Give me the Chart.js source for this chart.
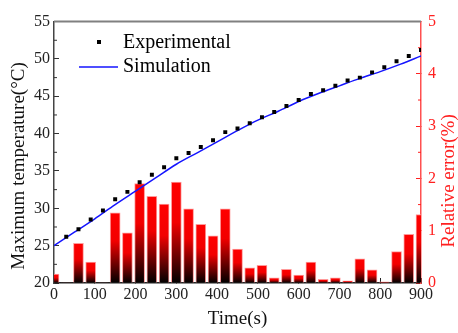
<!DOCTYPE html>
<html>
<head>
<meta charset="utf-8">
<script src="https://cdn.jsdelivr.net/npm/chart.js@4.4.1/dist/chart.umd.min.js"></script>
<style>
  html, body { margin: 0; padding: 0; background: #fff; }
</style>
</head>
<body>
<canvas id="chart" width="458" height="333"></canvas>
<script>
'use strict';

// measured points (s, degC)
const expTimes = [30, 60, 90, 120, 150, 180, 210, 240, 270, 300, 330, 360, 390, 420, 450,
                  480, 510, 540, 570, 600, 630, 660, 690, 720, 750, 780, 810, 840, 870, 900];
const expTemp = [26.2, 27.2, 28.5, 29.7, 31.2, 32.2, 33.5, 34.5, 35.5, 36.7, 37.4, 38.2, 39.1, 40.2, 40.7,
                 41.4, 42.2, 42.9, 43.7, 44.5, 45.3, 45.8, 46.4, 47.1, 47.5, 48.2, 48.9, 49.7, 50.4, 51.2];

// simulated curve
const simTimes = [0, 50, 100, 150, 200, 250, 300, 350, 400, 450, 500, 550, 600, 650, 700, 750, 800, 850, 900];
const simTemp = [25.0, 26.8, 28.6, 30.5, 32.3, 34.1, 35.9, 37.4, 38.9, 40.4, 41.8, 43.0, 44.3, 45.4, 46.4, 47.4, 48.3, 49.3, 50.4];

// relative error (%)
const errTimes = [0, 30, 60, 90, 120, 150, 180, 210, 240, 270, 300, 330, 360, 390, 420, 450,
                  480, 510, 540, 570, 600, 630, 660, 690, 720, 750, 780, 810, 840, 870, 900];
const relErr = [0.17, 0.01, 0.76, 0.40, 0.01, 1.34, 0.96, 1.90, 1.66, 1.51, 1.93, 1.42, 1.12, 0.90, 1.42, 0.65,
                0.29, 0.34, 0.10, 0.26, 0.15, 0.40, 0.07, 0.10, 0.04, 0.46, 0.25, 0.02, 0.60, 0.93, 1.31];

const legendLabels = ['Experimental', 'Simulation'];
const axisTitles = { x: 'Time(s)', y: 'Maximum temperature(°C)', yErr: 'Relative error(%)' };

const SERIF = '"Liberation Serif", "Times New Roman", serif';
const RED = '#ff2020';

function toXY(xs, ys) {
  return xs.map((x, i) => ({ x: x, y: ys[i] }));
}

// red-to-black fill for each bar
function barFill(c) {
  if (!c.raw || c.raw.y == null) return '#ff0000';
  const s = c.chart.scales.yErr;
  if (!s) return '#ff0000';
  const top = s.getPixelForValue(c.raw.y);
  const base = s.getPixelForValue(0);
  if (!Number.isFinite(top) || !Number.isFinite(base)) return '#ff0000';
  if (base - top < 1) return '#000000';
  const g = c.chart.ctx.createLinearGradient(0, top, 0, base);
  g.addColorStop(0, '#ff0000');
  g.addColorStop(0.4, '#f20000');
  g.addColorStop(1, '#000000');
  return g;
}

function minorTicks(ctx, scale, values, len, color) {
  ctx.strokeStyle = color;
  ctx.beginPath();
  values.forEach(v => {
    const p = scale.getPixelForValue(v);
    if (scale.axis === 'x') {
      ctx.moveTo(p, scale.top);
      ctx.lineTo(p, scale.top - len);
    } else if (scale.position === 'left') {
      ctx.moveTo(scale.right, p);
      ctx.lineTo(scale.right + len, p);
    } else {
      ctx.moveTo(scale.left, p);
      ctx.lineTo(scale.left - len, p);
    }
  });
  ctx.stroke();
}

const frame = {
  id: 'frame',
  beforeDatasetsDraw(chart) {
    const { ctx, chartArea: a, scales } = chart;
    ctx.save();
    ctx.strokeStyle = '#808080';
    ctx.lineWidth = 2;
    ctx.beginPath();
    ctx.moveTo(a.left, a.top);
    ctx.lineTo(a.right, a.top);
    ctx.stroke();

    ctx.lineWidth = 1;
    minorTicks(ctx, scales.y, [22.5, 27.5, 32.5, 37.5, 42.5, 47.5, 52.5], 3, '#333');
    minorTicks(ctx, scales.yErr, [0.5, 1.5, 2.5, 3.5, 4.5], 3, RED);
    minorTicks(ctx, scales.x, [50, 150, 250, 350, 450, 550, 650, 750, 850], 3, '#222');
    ctx.restore();
  },
  afterDraw(chart) {
    const { ctx, chartArea: a } = chart;
    ctx.save();
    ctx.font = '19px ' + SERIF;
    ctx.textAlign = 'center';
    ctx.textBaseline = 'middle';

    ctx.fillStyle = '#111';
    ctx.fillText(axisTitles.x, (a.left + a.right) / 2, 319);

    ctx.save();
    ctx.translate(19, 166);
    ctx.rotate(-Math.PI / 2);
    ctx.fillText(axisTitles.y, 0, 0);
    ctx.restore();

    ctx.save();
    ctx.fillStyle = RED;
    ctx.translate(449, 181);
    ctx.rotate(-Math.PI / 2);
    ctx.fillText(axisTitles.yErr, 0, 0);
    ctx.restore();

    // legend
    ctx.font = '20px ' + SERIF;
    ctx.textAlign = 'left';
    ctx.fillStyle = '#000';
    ctx.fillRect(97, 40, 4, 4);
    ctx.fillText(legendLabels[0], 123, 43);
    ctx.strokeStyle = '#1515ff';
    ctx.lineWidth = 1.5;
    ctx.beginPath();
    ctx.moveTo(79, 67);
    ctx.lineTo(118, 67);
    ctx.stroke();
    ctx.fillText(legendLabels[1], 123, 67);
    ctx.restore();
  }
};

const tickFont = { family: SERIF, size: 16 };

new Chart(document.getElementById('chart').getContext('2d'), {
  type: 'bar',
  data: {
    datasets: [
      {
        type: 'line',
        label: legendLabels[0],
        data: toXY(expTimes, expTemp),
        yAxisID: 'y',
        showLine: false,
        pointStyle: 'rect',
        pointRadius: 2.8,
        pointBackgroundColor: '#000',
        pointBorderWidth: 0,
        order: 1
      },
      {
        type: 'line',
        label: legendLabels[1],
        data: toXY(simTimes, simTemp),
        yAxisID: 'y',
        borderColor: '#1515ff',
        borderWidth: 1.5,
        pointRadius: 0,
        cubicInterpolationMode: 'monotone',
        order: 2
      },
      {
        type: 'bar',
        label: 'Relative error',
        data: toXY(errTimes, relErr),
        yAxisID: 'yErr',
        backgroundColor: barFill,
        borderColor: '#ff9a9a',
        borderWidth: 1,
        barThickness: 10,
        order: 3
      }
    ]
  },
  options: {
    responsive: false,
    animation: false,
    layout: { padding: { top: 14, left: 0, right: 0, bottom: 0 } },
    plugins: {
      legend: { display: false },
      tooltip: { enabled: false }
    },
    scales: {
      x: {
        type: 'linear',
        min: 0,
        max: 900,
        offset: false,
        afterFit: s => { s.height = 50; },
        ticks: { stepSize: 100, font: tickFont, color: '#222', padding: 7, maxRotation: 0, autoSkip: false },
        grid: { drawOnChartArea: false, offset: false, tickLength: -5, color: '#222' },
        border: { color: '#222', width: 1.5 }
      },
      y: {
        position: 'left',
        min: 20,
        max: 55,
        afterFit: s => { s.width = 54; },
        ticks: { stepSize: 5, font: tickFont, color: '#222', padding: 9 },
        grid: { drawOnChartArea: false, tickLength: -5, color: '#333' },
        border: { color: '#444', width: 1.5 }
      },
      yErr: {
        position: 'right',
        min: 0,
        max: 5,
        afterFit: s => { s.width = 37; },
        ticks: { stepSize: 1, font: tickFont, color: RED, padding: 12 },
        grid: { drawOnChartArea: false, tickLength: -5, color: RED },
        border: { color: '#ff5050', width: 1.5 }
      }
    }
  },
  plugins: [frame]
});
</script>
</body>
</html>
